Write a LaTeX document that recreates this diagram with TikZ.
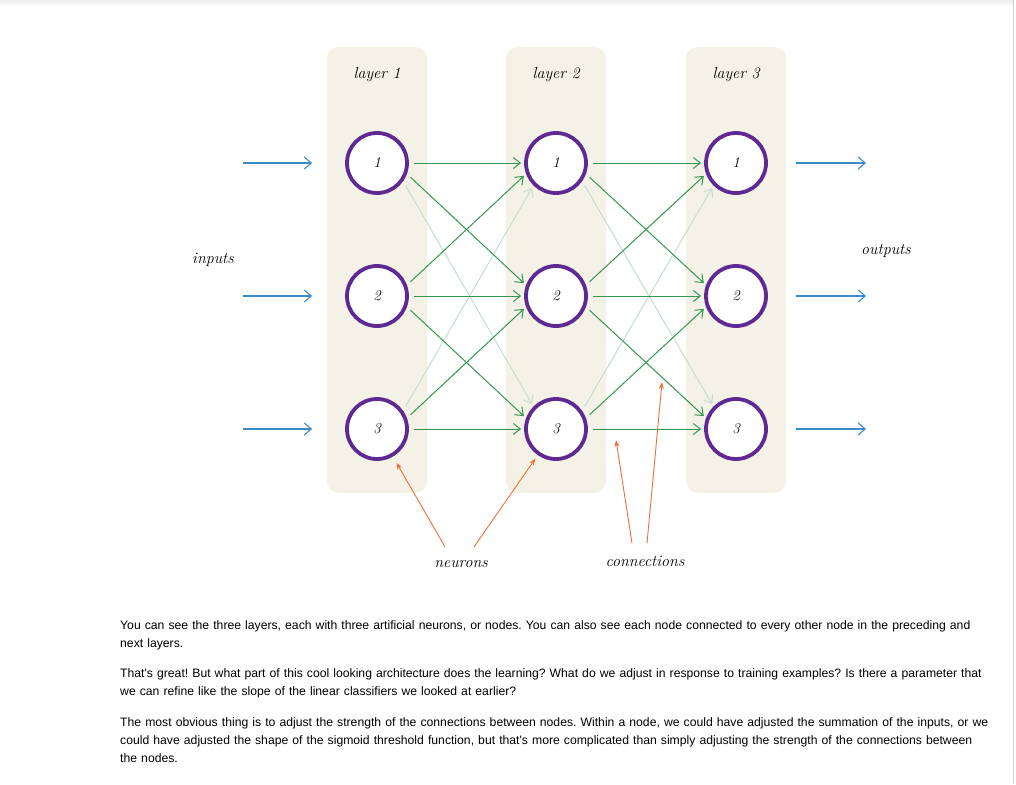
\documentclass[tikz,border=0pt]{standalone}
\usepackage{fontspec}
\newfontfamily\bodyfont{Liberation Sans}
\usepackage{tikz}
\usetikzlibrary{arrows.meta, positioning, calc}
\definecolor{layerBeige}{RGB}{244,242,231}
\definecolor{neuronPurple}{RGB}{94,42,145}
\definecolor{linkGreen}{RGB}{52,150,80}
\definecolor{linkFaint}{RGB}{200,222,205}
\definecolor{ioBlue}{RGB}{58,140,200}
\definecolor{noteOrange}{RGB}{236,112,56}
\tikzset{
  layerbox/.style={
    rectangle, rounded corners=12pt,
    fill=layerBeige,
    minimum width=100pt, minimum height=446pt
  },
  neuron/.style={
    circle, draw=neuronPurple, line width=3.8pt,
    fill=white, minimum size=60pt, inner sep=0pt,
    font=\fontsize{15}{15}\selectfont\itshape
  },
  hand/.style={
    font=\fontsize{16}{16}\selectfont\itshape
  },
  link/.style={
    -{Straight Barb[length=7pt,width=11pt]},
    color=linkGreen, line width=1pt,
    shorten <=5pt, shorten >=3pt
  },
  faintlink/.style={link, color=linkFaint},
  ioarr/.style={
    -{Straight Barb[length=7pt,width=12pt]},
    color=ioBlue, line width=1.1pt
  },
  pointer/.style={
    -{Stealth[length=7pt,width=5pt]},
    color=noteOrange, line width=0.9pt
  },
  para/.style={
    anchor=north west, text width=900pt, align=left, inner sep=0pt,
    font=\bodyfont\fontsize{12.2}{18}\selectfont
  }
}

\begin{document}
\frenchspacing
\begin{tikzpicture}[x=1pt, y=-1pt]
  % x positions of the 3 layers, y positions of the 3 rows
  \def\xa{377}  \def\xb{556}  \def\xc{736}
  \def\ya{163}  \def\yb{296}  \def\yc{429}

  % page
  \useasboundingbox (0,0) rectangle (1016,784);
  \fill[white] (0,0) rectangle (1016,784);
  \fill[top color=gray!14, bottom color=white] (0,0) rectangle (1013,6);
  \draw[gray!35, line width=1pt] (1013.5,0) -- (1013.5,784);

  % Layer backgrounds
  \node[layerbox] (layer1) at (\xa, 270) {};
  \node[layerbox] (layer2) at (\xb, 270) {};
  \node[layerbox] (layer3) at (\xc, 270) {};
  \node[hand] (lab1) at (\xa, 75) {layer 1};
  \node[hand] (lab2) at (\xb, 75) {layer 2};
  \node[hand] (lab3) at (\xc, 75) {layer 3};

  % Neurons
  \node[neuron] (n11) at (\xa, \ya) {1};
  \node[neuron] (n12) at (\xa, \yb) {2};
  \node[neuron] (n13) at (\xa, \yc) {3};
  \node[neuron] (n21) at (\xb, \ya) {1};
  \node[neuron] (n22) at (\xb, \yb) {2};
  \node[neuron] (n23) at (\xb, \yc) {3};
  \node[neuron] (n31) at (\xc, \ya) {1};
  \node[neuron] (n32) at (\xc, \yb) {2};
  \node[neuron] (n33) at (\xc, \yc) {3};

  % Connections layer 1 -> layer 2
  \draw[faintlink] (n11.-35) -- (n23.135);
  \draw[faintlink] (n13.35) -- (n21.225);
  \draw[link] (n11.east) -- (n21.west);
  \draw[link] (n12.east) -- (n22.west);
  \draw[link] (n13.east) -- (n23.west);
  \draw[link] (n11.-20) -- (n22.160);
  \draw[link] (n12.-20) -- (n23.160);
  \draw[link] (n12.20) -- (n21.200);
  \draw[link] (n13.20) -- (n22.200);

  % Connections layer 2 -> layer 3
  \draw[faintlink] (n21.-35) -- (n33.135);
  \draw[faintlink] (n23.35) -- (n31.225);
  \draw[link] (n21.east) -- (n31.west);
  \draw[link] (n22.east) -- (n32.west);
  \draw[link] (n23.east) -- (n33.west);
  \draw[link] (n21.-20) -- (n32.160);
  \draw[link] (n22.-20) -- (n33.160);
  \draw[link] (n22.20) -- (n31.200);
  \draw[link] (n23.20) -- (n32.200);

  % Inputs and outputs
  \coordinate (in1) at (243, \ya);
  \coordinate (in2) at (243, \yb);
  \coordinate (in3) at (243, \yc);
  \coordinate (out1) at (866, \ya);
  \coordinate (out2) at (866, \yb);
  \coordinate (out3) at (866, \yc);
  \draw[ioarr, shorten >=33pt] (in1) -- (n11);
  \draw[ioarr, shorten >=33pt] (in2) -- (n12);
  \draw[ioarr, shorten >=33pt] (in3) -- (n13);
  \draw[ioarr, shorten <=28pt] (n31) -- (out1);
  \draw[ioarr, shorten <=28pt] (n32) -- (out2);
  \draw[ioarr, shorten <=28pt] (n33) -- (out3);
  \node[hand] (inputs) at (213, 260) {inputs};
  \node[hand] (outputs) at (886, 251) {outputs};

  % Annotations
  \node[hand] (neurons) at (461, 564) {neurons};
  \node[hand] (connections) at (645, 561) {connections};
  \coordinate (cpt1) at (616, 440);
  \coordinate (cpt2) at (662, 382);
  \draw[pointer, shorten >=7pt] ([xshift=-16pt, yshift=10pt]neurons.north) -- (n13);
  \draw[pointer, shorten >=4pt] ([xshift=13pt, yshift=10pt]neurons.north) -- (n23);
  \draw[pointer] ([xshift=-13pt, yshift=9pt]connections.north) -- (cpt1);
  \draw[pointer] ([xshift=2pt, yshift=9pt]connections.north) -- (cpt2);

  % Text below the figure
  \node[para] (para1) at (120, 620)
    {You can see the three layers, each with three artificial neurons, or nodes. You can also see each node connected to every other node in the preceding and\\
     next layers.};
  \node[para] (para2) at (120, 668.5)
    {That's great! But what part of this cool looking architecture does the learning? What do we adjust in response to training examples? Is there a parameter that\\
     we can refine like the slope of the linear classifiers we looked at earlier?};
  \node[para] (para3) at (120, 717)
    {The most obvious thing is to adjust the strength of the connections between nodes. Within a node, we could have adjusted the summation of the inputs, or we\\
     could have adjusted the shape of the sigmoid threshold function, but that's more complicated than simply adjusting the strength of the connections between\\
     the nodes.};
\end{tikzpicture}
\end{document}
